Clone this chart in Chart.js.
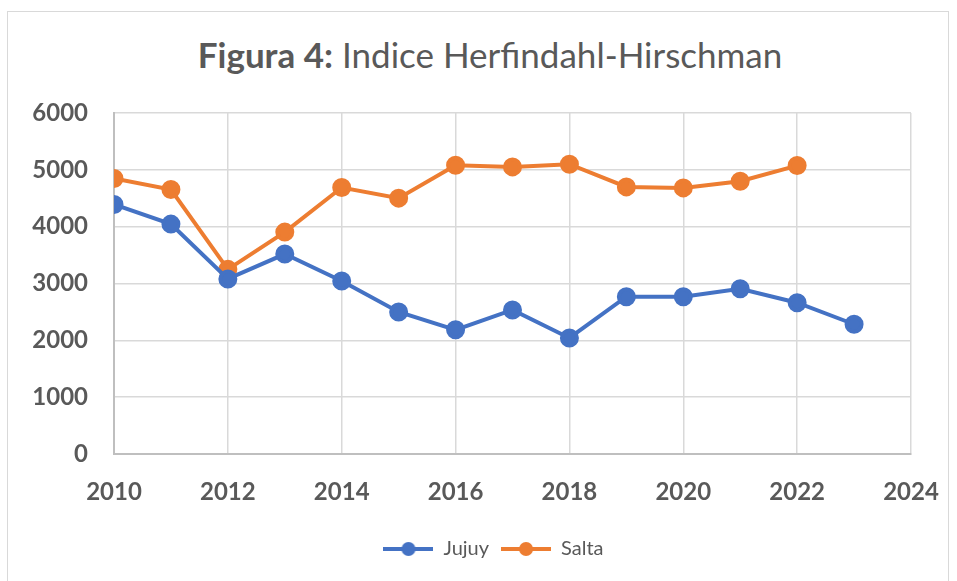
<!DOCTYPE html>
<html>
<head>
<meta charset="utf-8">
<script src="https://cdn.jsdelivr.net/npm/chart.js@4"></script>
<style>
  body { margin: 0; background: #fff; }
  #wrap { position: relative; width: 957px; height: 581px; }
  #frame { position: absolute; left: 7px; top: 11px; width: 942px; height: 580px; border: 1px solid #d9d9d9; box-sizing: border-box; }
  #title { position: absolute; left: 0; top: 33px; width: 980px; text-align: center;
           font-family: Lato, sans-serif; font-size: 35px; line-height: 42px; color: #595959; }
  canvas { position: absolute; left: 0; top: 0; }
</style>
</head>
<body>
<div id="wrap">
  <div id="frame"></div>
  <div id="title"><b>Figura 4:</b> Indice Herfindahl-Hirschman</div>
  <canvas id="hhiChart" width="957" height="581"></canvas>
</div>
<script>
// years and index values
const years = [2010, 2011, 2012, 2013, 2014, 2015, 2016, 2017, 2018, 2019, 2020, 2021, 2022, 2023];
const jujuy = [4390, 4045, 3080, 3518, 3043, 2500, 2185, 2534, 2042, 2768, 2768, 2908, 2662, 2283];
const salta = [4847, 4654, 3249, 3904, 4689, 4502, 5080, 5052, 5098, 4700, 4682, 4800, 5075];
const xTicks = [2010, 2012, 2014, 2016, 2018, 2020, 2022, 2024];
const yTicks = [0, 1000, 2000, 3000, 4000, 5000, 6000];

const toPoints = vals => vals.map((v, i) => ({ x: years[i], y: v }));

// legend marker: line with a dot, like Excel
function marker(color) {
    const c = document.createElement('canvas');
    c.width = 50; c.height = 16;
    const g = c.getContext('2d');
    g.strokeStyle = color; g.lineWidth = 4;
    g.beginPath(); g.moveTo(0, 8); g.lineTo(50, 8); g.stroke();
    g.fillStyle = color;
    g.beginPath(); g.arc(25, 8, 7, 0, Math.PI * 2); g.fill();
    return c;
}

// legend sits a bit right of the plot centre in the figure
const shiftLegend = {
    id: 'shiftLegend',
    afterLayout(chart) {
        chart.legend.left += 38;
        chart.legend.right += 38;
    }
};

const textColor = '#595959';
const tickFont = { family: 'Lato, sans-serif', size: 24, weight: 'bold' };

new Chart(document.getElementById('hhiChart'), {
    type: 'line',
    data: {
        datasets: [{
            label: 'Jujuy',
            data: toPoints(jujuy),
            borderColor: '#4472C4',
            backgroundColor: '#4472C4',
            borderWidth: 4,
            pointRadius: 7.5,
            pointHoverRadius: 7.5
        }, {
            label: 'Salta',
            data: toPoints(salta),
            borderColor: '#ED7D31',
            backgroundColor: '#ED7D31',
            borderWidth: 4,
            pointRadius: 7.5,
            pointHoverRadius: 7.5
        }]
    },
    options: {
        responsive: false,
        animation: false,
        layout: { padding: { top: 113, right: 46, bottom: 12, left: 0 } },
        scales: {
            x: {
                type: 'linear',
                min: 2010, max: 2024,
                afterBuildTicks: s => { s.ticks = xTicks.map(v => ({ value: v })); },
                afterFit: s => { s.height = 73; s.paddingLeft = 0; s.paddingRight = 0; },
                ticks: { color: textColor, font: tickFont, padding: 24, callback: v => String(v) },
                grid: { color: '#d9d9d9', lineWidth: 1.5, drawTicks: false },
                border: { color: '#bfbfbf', width: 2 }
            },
            y: {
                min: 0, max: 6000,
                afterBuildTicks: s => { s.ticks = yTicks.map(v => ({ value: v })); },
                afterFit: s => { s.width = 114; s.paddingTop = 0; s.paddingBottom = 0; },
                ticks: { color: textColor, font: tickFont, padding: 26, callback: v => String(v) },
                grid: { color: '#d9d9d9', lineWidth: 1.5, drawTicks: false },
                border: { color: '#bfbfbf', width: 2 }
            }
        },
        plugins: {
            tooltip: { enabled: false },
            legend: {
                position: 'bottom',
                labels: {
                    color: textColor,
                    font: { family: 'Lato, sans-serif', size: 20 },
                    usePointStyle: true,
                    pointStyleWidth: 50,
                    boxHeight: 16,
                    padding: 12,
                    generateLabels: chart => Chart.defaults.plugins.legend.labels.generateLabels(chart)
                        .map(l => Object.assign(l, { pointStyle: marker(l.strokeStyle) }))
                }
            }
        }
    },
    plugins: [shiftLegend]
});
</script>
</body>
</html>
